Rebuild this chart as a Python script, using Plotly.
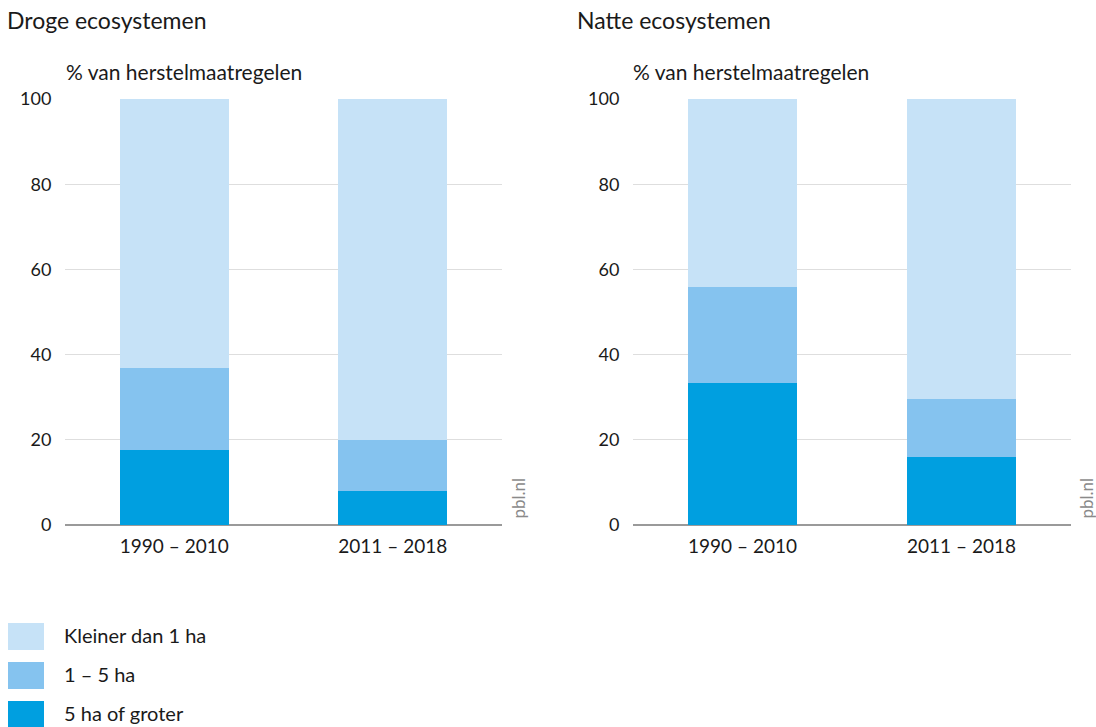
import plotly.graph_objects as go
from plotly.subplots import make_subplots

W, H = 1096, 727

categories = ["1990 – 2010", "2011 – 2018"]
series_names = ["5 ha of groter", "1 – 5 ha", "Kleiner dan 1 ha"]
colors = ["#009fe0", "#85c3ef", "#c6e2f7"]

droog_groot = [17.6, 8.0]
droog_middel = [19.2, 12.0]
droog_klein = [63.2, 80.0]

nat_groot = [33.3, 16.0]
nat_middel = [22.6, 13.6]
nat_klein = [44.1, 70.4]

panel_titles = ["Droge ecosystemen", "Natte ecosystemen"]
y_label = "% van herstelmaatregelen"
y_ticks = [0, 20, 40, 60, 80, 100]
legend_order = ["Kleiner dan 1 ha", "1 – 5 ha", "5 ha of groter"]

FONT = "Lato"
TXT = "#1a1a1a"

fig = make_subplots(rows=1, cols=2)

panels = [
    [droog_groot, droog_middel, droog_klein],
    [nat_groot, nat_middel, nat_klein],
]
for ci, panel in enumerate(panels):
    for name, vals, col in zip(series_names, panel, colors):
        fig.add_trace(
            go.Bar(x=categories, y=vals, name=name, marker_color=col,
                   marker_line_width=0, showlegend=False,
                   hoverinfo="x+y+name"),
            row=1, col=ci + 1)


def px(x):
    return x / W


def py(y):
    return 1 - y / H


domains = [(px(65), px(502)), (px(633), px(1071))]
for i, dom in enumerate(domains):
    xa = "xaxis" if i == 0 else "xaxis2"
    ya = "yaxis" if i == 0 else "yaxis2"
    fig.layout[xa].update(
        domain=list(dom), range=[-0.5, 1.5], showgrid=False,
        showline=False, zeroline=False, ticks="outside", ticklen=4,
        tickcolor="rgba(0,0,0,0)",
        tickfont=dict(family=FONT, size=19, color=TXT), fixedrange=True)
    fig.layout[ya].update(
        domain=[py(525), py(99)], range=[0, 100], tickvals=y_ticks,
        showgrid=True, gridcolor="#dedede", gridwidth=1,
        zeroline=True, zerolinecolor="#9a9a9a", zerolinewidth=1.5,
        showline=False, ticks="outside", ticklen=9,
        tickcolor="rgba(0,0,0,0)",
        tickfont=dict(family=FONT, size=18, color=TXT), fixedrange=True)

annotations = []
shapes = []
for i, (t, xl) in enumerate(zip(panel_titles, [8, 578])):
    annotations.append(dict(text=t, x=px(xl), y=py(20), xref="paper", yref="paper",
                            xanchor="left", yanchor="middle", showarrow=False,
                            xshift=-2, borderpad=0,
                            font=dict(family=FONT, size=23, color=TXT)))
    annotations.append(dict(text=y_label, x=px([66, 633][i]), y=py(72),
                            xref="paper", yref="paper", xanchor="left",
                            yanchor="middle", showarrow=False, xshift=-2,
                            font=dict(family=FONT, size=21, color=TXT)))
    annotations.append(dict(text="pbl.nl", x=px([518, 1086][i]), y=py(521),
                            xref="paper", yref="paper", xanchor="center",
                            yanchor="bottom", textangle=-90, showarrow=False,
                            font=dict(family=FONT, size=17, color="#8a8a8a")))

color_of = dict(zip(series_names, colors))
leg_tops = [623, 662, 701]
for name, top in zip(legend_order, leg_tops):
    shapes.append(dict(type="rect", xref="paper", yref="paper",
                       x0=px(8), x1=px(44), y0=py(top + 27), y1=py(top),
                       fillcolor=color_of[name], line=dict(width=0)))
    annotations.append(dict(text=name, x=px(64), y=py(top + 12), xref="paper",
                            yref="paper", xanchor="left", yanchor="middle",
                            showarrow=False, xshift=-2,
                            font=dict(family=FONT, size=20, color=TXT)))

fig.update_layout(
    width=W, height=H, barmode="stack", bargap=0.5,
    margin=dict(l=0, r=0, t=0, b=0, autoexpand=False),
    paper_bgcolor="white", plot_bgcolor="white",
    annotations=annotations, shapes=shapes, showlegend=False,
    font=dict(family=FONT, color=TXT),
)

fig.write_html(
    "out.html",
    config={"displayModeBar": False},
    post_script="document.body.style.margin='0';"
                "document.body.style.overflow='hidden';",
)
